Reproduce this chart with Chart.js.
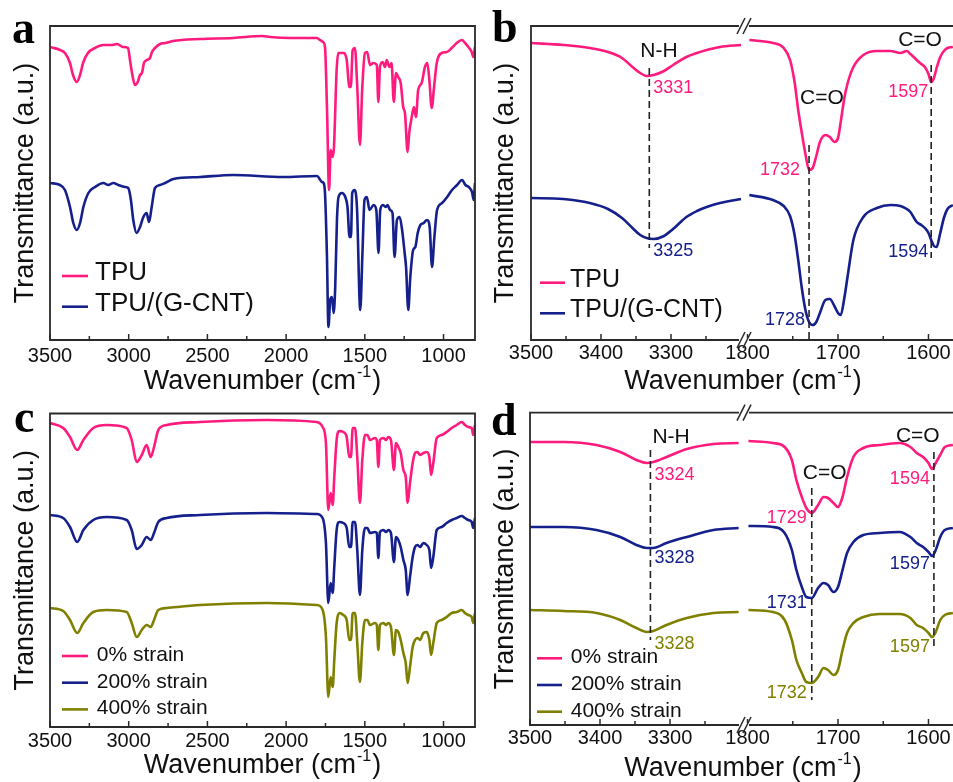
<!DOCTYPE html>
<html>
<head>
<meta charset="utf-8">
<script src="https://cdn.jsdelivr.net/npm/chart.js@4.4.0/dist/chart.umd.min.js"></script>
<style>
  html, body { margin: 0; padding: 0; background: #fff; }
  body { width: 953px; height: 782px; position: relative; overflow: hidden; }
  canvas { position: absolute; }
</style>
</head>
<body>
<canvas id="cA" width="480" height="395" style="left:0;top:0"></canvas>
<canvas id="cC" width="480" height="392" style="left:0;top:390px"></canvas>
<canvas id="cBL" width="473" height="395" style="left:480px;top:0"></canvas>
<canvas id="cBR" width="253" height="395" style="left:700px;top:0"></canvas>
<canvas id="cDL" width="473" height="392" style="left:480px;top:390px"></canvas>
<canvas id="cDR" width="253" height="392" style="left:700px;top:390px"></canvas>
<script>
// ---- data (wavenumber in cm-1, transmittance in arbitrary offset units) ----

// panel a
const waveA_tpu = [3500,3436,3405,3373,3354,3330,3309,3290,3259,3214,3163,3106,3074,3036,3004,2992,2979,2960,2943,2928,2916,2903,2884,2865,2852,2833,2801,2769,2719,2547,2337,2150,2102,1975,1804,1785,1766,1753,1740,1727,1717,1704,1696,1679,1669,1637,1615,1598,1589,1577,1563,1548,1531,1516,1499,1485,1467,1446,1424,1414,1404,1387,1372,1361,1344,1330,1316,1302,1288,1272,1256,1245,1228,1218,1202,1188,1175,1161,1139,1118,1103,1090,1075,1060,1043,1011,979,948,916,884,863,842,821,811,800];
const tpuA = [293,290,287,277,265,258,265,277,287,292,295,295,296,293,292,280,267,255,258,265,267,277,280,282,288,292,296,297,299,301,302,304,303,302,302,300,298,293,230,150,190,183,193,270,287,287,280,253,253,290,292,253,195,253,287,288,275,277,275,238,273,278,273,280,273,277,238,267,263,257,233,227,188,207,223,233,223,250,257,273,277,260,232,253,277,287,288,292,297,300,297,293,288,283,293];
const waveA_cnt = [3500,3436,3405,3373,3352,3330,3309,3288,3256,3214,3161,3130,3098,3066,3024,3003,2986,2971,2950,2928,2907,2886,2871,2854,2833,2801,2769,2716,2547,2337,2020,1804,1772,1762,1753,1741,1731,1720,1709,1698,1688,1677,1667,1646,1624,1610,1597,1588,1580,1565,1550,1529,1515,1502,1487,1470,1444,1427,1413,1402,1385,1368,1356,1339,1324,1311,1296,1279,1263,1247,1238,1224,1211,1193,1179,1164,1147,1126,1105,1088,1073,1058,1041,1009,977,946,914,882,861,840,819,808,800];
const cntA = [157,155,150,133,117,110,117,133,147,153,157,155,157,155,153,152,140,120,107,113,123,127,118,133,152,155,157,161,163,165,163,164,158,157,147,87,13,40,43,27,53,120,143,147,143,133,103,103,147,150,133,30,87,140,143,130,135,130,87,130,135,133,135,130,127,83,120,123,110,87,73,30,63,90,93,107,115,117,120,113,73,103,130,137,143,150,155,160,155,153,148,140,157];

// panel b (broken axis)
const waveB_left = [3500,3454,3416,3390,3370,3355,3344,3335,3325,3310,3297,3278,3263,3249,3230,3200];
const tpuB_left = [297,295,292,288,282,273,267,264,265,269,275,283,287,290,293,295];
const cntB_left = [142,141,137,131,122,112,105,102,101,104,111,123,129,133,137,141];
const waveB_right = [1798,1772,1760,1753,1748,1744,1740,1736,1732,1728,1724,1720,1714,1709,1704,1700,1697,1693,1689,1683,1672,1657,1642,1631,1624,1620,1613,1608,1604,1600,1597,1594,1591,1587,1583,1579,1573];
const tpuB_right = [300,297,292,280,258,230,207,186,170,172,184,198,205,203,198,202,218,242,258,273,285,289,289,287,289,286,280,276,273,266,258,262,272,283,289,292,293];
const cntB_right = [145,140,134,124,105,80,52,30,18,15,18,27,40,41,34,27,25,42,66,100,123,132,135,134,131,128,118,115,112,107,100,94,93,107,122,131,135];
const dashB = [3331, 1732, 1597];
const peakB_tpu = [3331, 1732, 1597];
const peakB_cnt = [3325, 1728, 1594];

// panel c
const waveC = [3500,3416,3373,3327,3288,3225,3140,3013,2981,2949,2917,2886,2860,2839,2812,2759,2547,2123,1806,1768,1747,1732,1717,1704,1694,1679,1662,1637,1615,1599,1588,1577,1562,1548,1531,1516,1499,1484,1467,1435,1424,1414,1404,1383,1365,1351,1334,1315,1302,1287,1272,1255,1240,1228,1213,1196,1181,1166,1149,1128,1107,1090,1079,1065,1043,1012,980,948,916,884,864,843,821,811,800];
const s0C = [304,299,290,277,287,299,302,299,287,265,272,282,270,280,297,302,305,307,305,300,284,217,234,222,250,287,296,295,290,270,270,299,299,270,224,267,292,292,287,289,287,260,287,289,287,290,287,257,284,280,274,257,250,224,244,264,274,275,272,274,275,270,252,264,289,292,295,299,302,305,302,300,299,292,302];
const s200C = [212,209,200,185,197,207,210,207,197,178,182,190,187,194,205,209,212,214,213,209,184,124,144,134,160,197,205,204,199,180,180,205,205,177,132,177,199,199,194,195,194,169,195,197,195,197,194,165,190,187,180,167,157,132,150,170,180,182,180,184,182,177,159,170,197,200,204,207,209,211,209,207,205,199,209];
const s400C = [119,116,107,94,104,115,117,115,104,90,97,102,100,107,117,119,122,124,122,117,90,30,50,40,67,104,114,112,107,87,87,114,114,84,45,84,107,107,102,104,102,77,102,104,102,104,100,72,97,95,87,74,64,44,60,80,87,89,87,94,95,87,72,84,104,107,110,114,115,117,114,112,110,104,114];

// panel d (broken axis)
const waveD_left = [3500,3452,3405,3371,3348,3333,3324,3305,3276,3238,3202];
const s0D_left = [283,283,280,273,265,262,263,268,276,281,282];
const s200D_left = [198,198,195,188,180,177,177,182,188,195,197];
const s400D_left = [115,114,112,105,97,93,94,100,107,112,113];
const waveD_right = [1799,1772,1759,1751,1746,1740,1735,1729,1722,1716,1711,1705,1700,1695,1690,1683,1672,1654,1632,1620,1613,1606,1600,1596,1592,1587,1582,1573];
const s0D_right = [284,282,278,265,245,228,217,212,220,228,227,222,218,228,248,268,277,280,282,278,272,268,262,256,262,270,278,280];
const s200D_right = [199,198,192,175,155,138,128,127,137,142,140,133,138,155,172,183,190,192,193,188,182,178,173,169,175,188,195,197];
const s400D_right = [115,113,105,85,65,52,43,42,48,57,55,50,55,75,92,102,108,111,111,107,100,97,92,88,93,105,110,112];
const dashD = [3328, 1729, 1594];
const peakD_0 = [3324, 1729, 1594];
const peakD_200 = [3328, 1731, 1597];
const peakD_400 = [3328, 1732, 1597];

// axis ticks
const ticksWide = [3500,3250,3000,2750,2500,2250,2000,1750,1500,1250,1000];
const labelsWide = [3500,3000,2500,2000,1500,1000];
const ticksLeft = [3500,3450,3400,3350,3300,3250];
const labelsLeft = [3500,3400,3300];
const ticksRight = [1800,1750,1700,1650,1600];
const labelsRight = [1800,1700,1600];

const namesAB = ['TPU', 'TPU/(G-CNT)'];
const namesCD = ['0% strain', '200% strain', '400% strain'];

// ---- styling ----
const FONT = '"Liberation Sans", Arial, sans-serif';
Chart.defaults.font.family = FONT;
Chart.defaults.color = '#111';
const PINK = '#ff1a7d', NAVY = '#15208c', OLIVE = '#808000';
const FRAME = '#2a2a2a';

function series(label, xs, ys, color) {
    return {
        label: label,
        data: xs.map((x, i) => ({ x: x, y: ys[i] })),
        borderColor: color,
        backgroundColor: color,
        borderWidth: 2.6,
        pointRadius: 0,
        fill: false,
        cubicInterpolationMode: 'monotone'
    };
}

function frame(chart, sides) {
    const { ctx, chartArea: a } = chart;
    ctx.save();
    ctx.strokeStyle = FRAME;
    ctx.lineWidth = 1.8;
    ctx.lineCap = 'square';
    ctx.beginPath();
    if (sides.includes('t')) { ctx.moveTo(a.left, a.top); ctx.lineTo(a.right, a.top); }
    if (sides.includes('b')) { ctx.moveTo(a.left, a.bottom); ctx.lineTo(a.right, a.bottom); }
    if (sides.includes('l')) { ctx.moveTo(a.left, a.top); ctx.lineTo(a.left, a.bottom); }
    if (sides.includes('r')) { ctx.moveTo(a.right, a.top); ctx.lineTo(a.right, a.bottom); }
    ctx.stroke();
    ctx.restore();
}

// inward tick marks on the bottom axis
function inTicks(chart, labels) {
    const { ctx, chartArea: a } = chart;
    const s = chart.scales.x;
    ctx.save();
    ctx.strokeStyle = FRAME;
    ctx.lineWidth = 1.5;
    s.ticks.forEach(t => {
        const px = s.getPixelForValue(t.value);
        const len = labels.includes(t.value) ? 6 : 4;
        ctx.beginPath();
        ctx.moveTo(px, a.bottom);
        ctx.lineTo(px, a.bottom - len);
        ctx.stroke();
    });
    ctx.restore();
}

function xTitle(ctx, cx, base) {
    const big = '27px ' + FONT, small = '16px ' + FONT;
    ctx.save();
    ctx.fillStyle = '#111';
    ctx.textAlign = 'left';
    ctx.textBaseline = 'alphabetic';
    ctx.font = big;
    const w1 = ctx.measureText('Wavenumber (cm').width;
    const w3 = ctx.measureText(')').width;
    ctx.font = small;
    const w2 = ctx.measureText('-1').width;
    const x = cx - (w1 + w2 + w3 + 2) / 2;
    ctx.font = big;
    ctx.fillText('Wavenumber (cm', x, base);
    ctx.font = small;
    ctx.fillText('-1', x + w1 + 1, base - 12);
    ctx.font = big;
    ctx.fillText(')', x + w1 + w2 + 2, base);
    ctx.restore();
}

function letter(ctx, ch, x, y) {
    ctx.save();
    ctx.fillStyle = '#000';
    ctx.font = 'bold 46px "Liberation Serif", "Times New Roman", serif';
    ctx.textAlign = 'left';
    ctx.textBaseline = 'alphabetic';
    ctx.fillText(ch, x, y);
    ctx.restore();
}

function legend(chart, x0, y0, gap, size, len, textGap, off) {
    const ctx = chart.ctx;
    ctx.save();
    ctx.font = size + 'px ' + FONT;
    ctx.textAlign = 'left';
    ctx.textBaseline = 'alphabetic';
    chart.data.datasets.forEach((d, i) => {
        const y = y0 + i * gap;
        ctx.strokeStyle = d.borderColor;
        ctx.lineWidth = 2.6;
        ctx.beginPath();
        ctx.moveTo(x0, y);
        ctx.lineTo(x0 + len, y);
        ctx.stroke();
        ctx.fillStyle = '#111';
        ctx.fillText(d.label, x0 + len + textGap, y + off);
    });
    ctx.restore();
}

function dashLine(chart, wave, y1, y2) {
    const ctx = chart.ctx;
    const x = chart.scales.x.getPixelForValue(wave);
    ctx.save();
    ctx.strokeStyle = '#222';
    ctx.lineWidth = 1.6;
    ctx.setLineDash([7, 4]);
    ctx.beginPath();
    ctx.moveTo(x, y1);
    ctx.lineTo(x, y2);
    ctx.stroke();
    ctx.restore();
}

function minNear(ds, wave) {
    let best = Infinity;
    ds.data.forEach(p => { if (Math.abs(p.x - wave) <= 12 && p.y < best) best = p.y; });
    return best;
}

// peak value label placed next to a guide line, just under the curve minimum
function peakLabel(chart, di, value, lineWave, dx, dy, align) {
    const ctx = chart.ctx;
    const ds = chart.data.datasets[di];
    const x = chart.scales.x.getPixelForValue(lineWave) + dx;
    const y = chart.scales.y.getPixelForValue(minNear(ds, value)) + dy;
    ctx.save();
    ctx.fillStyle = ds.borderColor;
    ctx.font = '18px ' + FONT;
    ctx.textAlign = align;
    ctx.textBaseline = 'alphabetic';
    ctx.fillText(String(value), x, y);
    ctx.restore();
}

function bondText(chart, text, lineWave, dx, y) {
    const ctx = chart.ctx;
    ctx.save();
    ctx.fillStyle = '#111';
    ctx.font = '21px ' + FONT;
    ctx.textAlign = 'left';
    ctx.fillText(text, chart.scales.x.getPixelForValue(lineWave) + dx, y);
    ctx.restore();
}

function breakMarks(chart) {
    const { ctx, chartArea: a } = chart;
    const x = a.left;
    ctx.save();
    [a.top, a.bottom].forEach(y => {
        ctx.fillStyle = '#fff';
        ctx.fillRect(x - 5, y - 2, 10, 4);
        ctx.strokeStyle = FRAME;
        ctx.lineWidth = 1.5;
        [-3, 3].forEach(d => {
            ctx.beginPath();
            ctx.moveTo(x + d - 4, y + 8);
            ctx.lineTo(x + d + 4, y - 8);
            ctx.stroke();
        });
    });
    ctx.restore();
}

function makeChart(id, o) {
    return new Chart(document.getElementById(id), {
        type: 'line',
        data: { datasets: o.datasets },
        options: {
            responsive: false,
            animation: false,
            events: [],
            layout: { padding: o.padding },
            plugins: { legend: { display: false }, tooltip: { enabled: false } },
            scales: {
                x: {
                    type: 'linear',
                    reverse: true,
                    min: o.xMin,
                    max: o.xMax,
                    afterFit: s => { s.height = o.xHeight; },
                    afterBuildTicks: s => { s.ticks = o.ticks.map(v => ({ value: v })); },
                    ticks: {
                        autoSkip: false, maxRotation: 0, minRotation: 0,
                        padding: o.tickPad,
                        font: { size: 20 },
                        color: '#111',
                        callback: v => o.labels.includes(v) ? String(v) : ''
                    },
                    grid: { display: false, drawTicks: false },
                    border: { display: false }
                },
                y: {
                    min: 0,
                    max: o.yMax,
                    display: o.yWidth > 0,
                    afterFit: s => { s.width = o.yWidth; },
                    ticks: { display: false },
                    grid: { display: false, drawTicks: false },
                    border: { display: false },
                    title: {
                        display: true,
                        text: 'Transmittance (a.u.)',
                        font: { size: 27 },
                        color: '#111',
                        padding: { top: 9, bottom: 0 }
                    }
                }
            }
        },
        plugins: [{ id: 'decor', afterDraw: o.decor }]
    });
}

// ---- panel a ----
makeChart('cA', {
    datasets: [
        series(namesAB[0], waveA_tpu, tpuA, PINK),
        series(namesAB[1], waveA_cnt, cntA, NAVY)
    ],
    padding: { top: 26, right: 5, left: 0, bottom: 0 },
    xMin: 800, xMax: 3500, xHeight: 55, yWidth: 50, yMax: 314, tickPad: 4,
    ticks: ticksWide, labels: labelsWide,
    decor: chart => {
        frame(chart, 'tblr');
        inTicks(chart, labelsWide);
        xTitle(chart.ctx, 262.5, 389);
        letter(chart.ctx, 'a', 12, 43);
        legend(chart, 62, 276, 30.7, 26, 26, 7, 4);
    }
});

// ---- panel c ----
makeChart('cC', {
    datasets: [
        series(namesCD[0], waveC, s0C, PINK),
        series(namesCD[1], waveC, s200C, NAVY),
        series(namesCD[2], waveC, s400C, OLIVE)
    ],
    padding: { top: 23.5, right: 5, left: 0, bottom: 0 },
    xMin: 800, xMax: 3500, xHeight: 55, yWidth: 50, yMax: 313.5, tickPad: 2,
    ticks: ticksWide, labels: labelsWide,
    decor: chart => {
        frame(chart, 'tblr');
        inTicks(chart, labelsWide);
        xTitle(chart.ctx, 262.5, 383);
        letter(chart.ctx, 'c', 14, 42);
        legend(chart, 62, 266, 26.7, 21, 26, 8.7, 5);
    }
});

// ---- panel b ----
makeChart('cBL', {
    datasets: [
        series(namesAB[0], waveB_left, tpuB_left, PINK),
        series(namesAB[1], waveB_left, cntB_left, NAVY)
    ],
    padding: { top: 26, right: 209, left: 0, bottom: 0 },
    xMin: 3195.7, xMax: 3500, xHeight: 55, yWidth: 51, yMax: 314, tickPad: 1,
    ticks: ticksLeft, labels: labelsLeft,
    decor: chart => {
        frame(chart, 'tbl');
        inTicks(chart, labelsLeft);
        xTitle(chart.ctx, 263, 389);
        letter(chart.ctx, 'b', 12, 42);
        legend(chart, 60, 282.7, 30.6, 25, 25, 5, 4);
        dashLine(chart, dashB[0], 68, 248);
        bondText(chart, 'N-H', dashB[0], -9, 57);
        peakLabel(chart, 0, peakB_tpu[0], dashB[0], 4, 17, 'left');
        peakLabel(chart, 1, peakB_cnt[0], dashB[0], 4, 17, 'left');
    }
});

makeChart('cBR', {
    datasets: [
        series(namesAB[0], waveB_right, tpuB_right, PINK),
        series(namesAB[1], waveB_right, cntB_right, NAVY)
    ],
    padding: { top: 26, right: 0, left: 44, bottom: 0 },
    xMin: 1572.9, xMax: 1803.9, xHeight: 55, yWidth: 0, yMax: 314, tickPad: 1,
    ticks: ticksRight, labels: labelsRight,
    decor: chart => {
        frame(chart, 'tb');
        inTicks(chart, labelsRight);
        breakMarks(chart);
        dashLine(chart, dashB[1], 145, 340);
        dashLine(chart, dashB[2], 65, 258);
        bondText(chart, 'C=O', dashB[1], -9, 104);
        bondText(chart, 'C=O', dashB[2], -33, 46);
        peakLabel(chart, 0, peakB_tpu[1], dashB[1], -9, 5, 'right');
        peakLabel(chart, 1, peakB_cnt[1], dashB[1], -4, 0, 'right');
        peakLabel(chart, 0, peakB_tpu[2], dashB[2], -3, 15, 'right');
        peakLabel(chart, 1, peakB_cnt[2], dashB[2], -3, 10, 'right');
    }
});

// ---- panel d ----
makeChart('cDL', {
    datasets: [
        series(namesCD[0], waveD_left, s0D_left, PINK),
        series(namesCD[1], waveD_left, s200D_left, NAVY),
        series(namesCD[2], waveD_left, s400D_left, OLIVE)
    ],
    padding: { top: 22.7, right: 209, left: 0, bottom: 0 },
    xMin: 3194.3, xMax: 3500, xHeight: 57, yWidth: 50, yMax: 312.3, tickPad: 1,
    ticks: ticksLeft, labels: labelsLeft,
    decor: chart => {
        frame(chart, 'tbl');
        inTicks(chart, labelsLeft);
        xTitle(chart.ctx, 263, 386);
        letter(chart.ctx, 'd', 11, 45);
        legend(chart, 57, 268.3, 26.7, 21, 25, 8.7, 5);
        dashLine(chart, dashD[0], 60, 250);
        bondText(chart, 'N-H', dashD[0], 2, 52.7);
        peakLabel(chart, 0, peakD_0[0], dashD[0], 4, 17, 'left');
        peakLabel(chart, 1, peakD_200[0], dashD[0], 4, 15, 'left');
        peakLabel(chart, 2, peakD_400[0], dashD[0], 4, 17, 'left');
    }
});

makeChart('cDR', {
    datasets: [
        series(namesCD[0], waveD_right, s0D_right, PINK),
        series(namesCD[1], waveD_right, s200D_right, NAVY),
        series(namesCD[2], waveD_right, s400D_right, OLIVE)
    ],
    padding: { top: 22.7, right: 0, left: 44, bottom: 0 },
    xMin: 1572.9, xMax: 1803.9, xHeight: 57, yWidth: 0, yMax: 312.3, tickPad: 1,
    ticks: ticksRight, labels: labelsRight,
    decor: chart => {
        frame(chart, 'tb');
        inTicks(chart, labelsRight);
        breakMarks(chart);
        dashLine(chart, dashD[1], 98, 310);
        dashLine(chart, dashD[2], 62, 257);
        bondText(chart, 'C=O', dashD[1], -9, 89.3);
        bondText(chart, 'C=O', dashD[2], -38, 51.7);
        peakLabel(chart, 0, peakD_0[1], dashD[1], -5, 10, 'right');
        peakLabel(chart, 1, peakD_200[1], dashD[1], -5, 10, 'right');
        peakLabel(chart, 2, peakD_400[1], dashD[1], -5, 15, 'right');
        peakLabel(chart, 0, peakD_0[2], dashD[2], -4, 15, 'right');
        peakLabel(chart, 1, peakD_200[2], dashD[2], -4, 13, 'right');
        peakLabel(chart, 2, peakD_400[2], dashD[2], -4, 15, 'right');
    }
});
</script>
</body>
</html>
